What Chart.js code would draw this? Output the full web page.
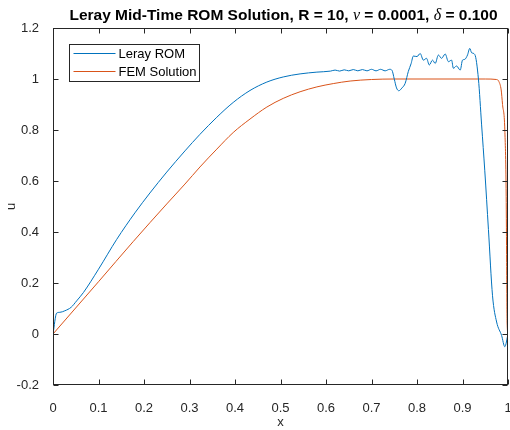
<!DOCTYPE html>
<html>

<head>
  <title>Leray Mid-Time ROM Solution</title>
  <script src="https://cdn.jsdelivr.net/npm/chart.js@4.4.1/dist/chart.umd.min.js"></script>
  <style>
    body { margin: 0; background: #fff; }
  </style>
</head>

<body>
  <canvas id="romChart" width="510" height="430"></canvas>

  <script>
    // values
    const lerayX = [0, 0.008, 0.015, 0.026, 0.04, 0.052, 0.067, 0.1, 0.14, 0.18, 0.213, 0.25, 0.29, 0.323, 0.36,
      0.396, 0.433, 0.47, 0.506, 0.543, 0.58, 0.61, 0.62, 0.63, 0.64, 0.65, 0.66, 0.67, 0.68, 0.69, 0.7,
      0.71, 0.72, 0.73, 0.74, 0.745, 0.75, 0.755, 0.76, 0.767, 0.774, 0.781, 0.787, 0.792, 0.8, 0.807,
      0.814, 0.821, 0.827, 0.834, 0.84, 0.847, 0.854, 0.862, 0.869, 0.876, 0.88, 0.887, 0.895, 0.9,
      0.905, 0.911, 0.916, 0.92, 0.927, 0.935, 0.942, 0.949, 0.957, 0.966, 0.975, 0.986, 0.993, 1.0];
    const lerayY = [0, 0.082, 0.085, 0.091, 0.105, 0.13, 0.163, 0.254, 0.371, 0.475, 0.553, 0.635, 0.718, 0.783, 0.85,
      0.908, 0.955, 0.988, 1.008, 1.02, 1.027, 1.031, 1.035, 1.031, 1.036, 1.032, 1.037, 1.032, 1.037, 1.032, 1.038,
      1.032, 1.038, 1.032, 1.038, 1.034, 1.0, 0.965, 0.954, 0.965, 0.983, 1.03, 1.06, 1.09, 1.088, 1.1,
      1.074, 1.081, 1.055, 1.074, 1.061, 1.094, 1.081, 1.098, 1.068, 1.074, 1.042, 1.051, 1.035, 1.074,
      1.077, 1.094, 1.12, 1.103, 1.096, 1.0, 0.82, 0.64, 0.41, 0.15, 0.047, -0.006, -0.05, 0.0];

    const femX = [0, 0.1, 0.176, 0.25, 0.29, 0.323, 0.36, 0.396, 0.433, 0.47, 0.506, 0.543, 0.58, 0.616, 0.653, 0.7,
      0.75, 0.95, 0.975, 0.98, 0.985, 0.988, 0.993, 0.996, 0.997, 0.998, 1.0];
    const femY = [0, 0.205, 0.362, 0.51, 0.588, 0.655, 0.725, 0.79, 0.843, 0.89, 0.924, 0.95, 0.969, 0.982, 0.992, 0.998,
      1.0, 1.0, 0.998, 0.99, 0.957, 0.9, 0.8, 0.54, 0.28, 0.047, 0.0];

    const seriesNames = ['Leray ROM', 'FEM Solution'];
    const xTicks = [0, 0.1, 0.2, 0.3, 0.4, 0.5, 0.6, 0.7, 0.8, 0.9, 1];
    const yTicks = [-0.2, 0, 0.2, 0.4, 0.6, 0.8, 1, 1.2];

    const toPoints = (xs, ys) => xs.map((x, i) => ({ x: x, y: ys[i] }));
    const axisColor = '#262626';
    const font = 'Liberation Sans, Arial, Helvetica, sans-serif';

    // MATLAB-ish frame: box, inward ticks, title with italic symbols, boxed legend
    const matlabFrame = {
      id: 'matlabFrame',
      afterDraw(chart) {
        const { ctx, chartArea: a, scales } = chart;
        ctx.save();
        ctx.strokeStyle = axisColor;
        ctx.lineWidth = 1;
        const L = Math.round(a.left) + 0.5, R = Math.round(a.right) - 0.5;
        const T = Math.round(a.top) + 0.5, B = Math.round(a.bottom) - 0.5;
        ctx.strokeRect(L, T, R - L, B - T);
        const tl = 5;
        ctx.beginPath();
        scales.x.ticks.forEach(t => {
          const px = Math.round(scales.x.getPixelForValue(t.value)) + 0.5;
          ctx.moveTo(px, B); ctx.lineTo(px, B - tl);
          ctx.moveTo(px, T); ctx.lineTo(px, T + tl);
        });
        scales.y.ticks.forEach(t => {
          const py = Math.round(scales.y.getPixelForValue(t.value)) + 0.5;
          ctx.moveTo(L, py); ctx.lineTo(L + tl, py);
          ctx.moveTo(R, py); ctx.lineTo(R - tl, py);
        });
        ctx.stroke();

        // title
        const parts = [
          ['Leray Mid-Time ROM Solution, R = 10, ', 'bold 15.5px ' + font],
          ['\u03bd', 'italic 16px Liberation Serif, serif'],
          [' = 0.0001, ', 'bold 15.5px ' + font],
          ['\u03b4', 'italic 16px Liberation Serif, serif'],
          [' = 0.100', 'bold 15.5px ' + font]
        ];
        let total = 0;
        parts.forEach(p => { ctx.font = p[1]; total += ctx.measureText(p[0]).width; });
        let tx = (a.left + a.right) / 2 - total / 2 + 3;
        ctx.fillStyle = '#000';
        ctx.textBaseline = 'alphabetic';
        parts.forEach(p => {
          ctx.font = p[1];
          ctx.fillText(p[0], tx, 20);
          tx += ctx.measureText(p[0]).width;
        });

        // legend
        const lx = 69.5, ly = 44.5, lw = 130, lh = 37;
        ctx.fillStyle = '#fff';
        ctx.fillRect(lx, ly, lw, lh);
        ctx.strokeStyle = axisColor;
        ctx.strokeRect(lx, ly, lw, lh);
        ctx.font = '13px ' + font;
        ctx.textBaseline = 'middle';
        chart.data.datasets.forEach((ds, i) => {
          const yy = ly + 9 + i * 18;
          ctx.strokeStyle = ds.borderColor;
          ctx.beginPath();
          ctx.moveTo(lx + 4, yy); ctx.lineTo(lx + 46, yy);
          ctx.stroke();
          ctx.fillStyle = '#000';
          ctx.fillText(ds.label, lx + 49, yy + 0.5);
        });
        ctx.restore();
      }
    };

    const ctx = document.getElementById('romChart').getContext('2d');
    const romChart = new Chart(ctx, {
      type: 'line',
      data: {
        datasets: [{
          label: seriesNames[0],
          data: toPoints(lerayX, lerayY),
          borderColor: '#0072BD',
          borderWidth: 1,
          pointRadius: 0,
          cubicInterpolationMode: 'monotone',
          fill: false
        }, {
          label: seriesNames[1],
          data: toPoints(femX, femY),
          borderColor: '#D95319',
          borderWidth: 1,
          pointRadius: 0,
          cubicInterpolationMode: 'monotone',
          fill: false
        }]
      },
      options: {
        responsive: false,
        animation: false,
        devicePixelRatio: 1,
        layout: { padding: { top: 28, right: 2, left: 0, bottom: 0 } },
        plugins: {
          legend: { display: false },
          title: { display: false },
          tooltip: { enabled: false }
        },
        scales: {
          x: {
            type: 'linear',
            min: 0,
            max: 1,
            afterBuildTicks: s => { s.ticks = xTicks.map(v => ({ value: v })); },
            afterFit: s => { s.height = 45; s.paddingLeft = 0; s.paddingRight = 0; },
            grid: { display: false },
            border: { display: false },
            ticks: { color: axisColor, font: { size: 13, family: font }, padding: 8, maxRotation: 0, callback: v => String(v) },
            title: { display: true, text: 'x', color: axisColor, font: { size: 13, family: font }, padding: 0 }
          },
          y: {
            type: 'linear',
            min: -0.2,
            max: 1.2,
            afterBuildTicks: s => { s.ticks = yTicks.map(v => ({ value: v })); },
            afterFit: s => { s.width = 53; s.paddingTop = 0; s.paddingBottom = 0; },
            grid: { display: false },
            border: { display: false },
            ticks: { color: axisColor, font: { size: 13, family: font }, padding: 6, callback: v => String(v) },
            title: { display: true, text: 'u', color: axisColor, font: { size: 13, family: font }, padding: { top: 4 } }
          }
        }
      },
      plugins: [matlabFrame]
    });
  </script>
</body>

</html>
